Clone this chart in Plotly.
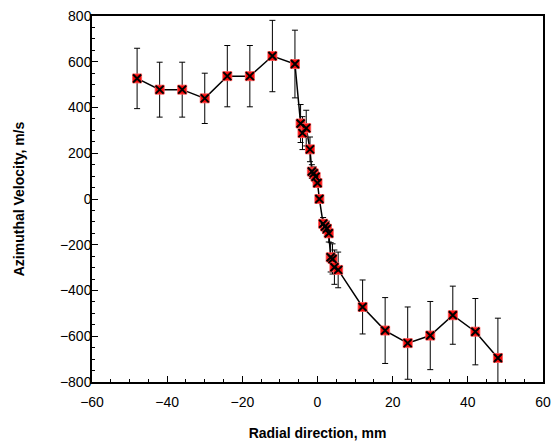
import plotly.graph_objects as go

radial_mm = [-48, -42, -36, -30, -24, -18, -12, -6,
             -4.5, -4, -3, -2, -1.5, -1, -0.5, 0, 0.5,
             1.5, 2, 2.5, 3, 3.5, 4, 4.5, 5.5,
             12, 18, 24, 30, 36, 42, 48]
velocity = [527, 478, 478, 440, 537, 537, 625, 590,
            330, 288, 310, 217, 120, 112, 97, 70, 0,
            -108, -120, -130, -150, -255, -262, -298, -310,
            -472, -575, -630, -597, -508, -580, -695]
error = [132, 120, 120, 110, 134, 134, 156, 148,
         83, 72, 78, 54, 30, 28, 24, 18, 0,
         27, 30, 33, 38, 64, 66, 75, 78,
         118, 144, 158, 149, 127, 145, 174]

fig = go.Figure()
fig.add_trace(go.Scatter(
    x=radial_mm, y=velocity, mode="lines+markers",
    line=dict(color="black", width=1.5),
    marker=dict(symbol="square", size=9, color="rgb(250,10,10)",
                line=dict(color="rgba(255,90,90,0.9)", width=1)),
    error_y=dict(type="data", array=error, visible=True,
                 color="black", thickness=1, width=3),
    showlegend=False))
fig.add_trace(go.Scatter(
    x=radial_mm, y=velocity, mode="markers",
    marker=dict(symbol="x-thin", size=8,
                line=dict(color="black", width=2)),
    showlegend=False, hoverinfo="skip"))

axis_common = dict(showline=True, linecolor="black", linewidth=1.5, mirror=True,
                   ticks="inside", ticklen=6, tickwidth=1, tickcolor="black",
                   showgrid=False, zeroline=False,
                   tickfont=dict(family="Liberation Sans, Arial", size=14, color="black"))
fig.update_xaxes(range=[-60, 60], dtick=20, tick0=-60,
                 minor=dict(dtick=5, ticks="inside", ticklen=3, tickcolor="black"),
                 ticklabelstandoff=6,
                 title=dict(text="<b>Radial direction, mm</b>",
                            font=dict(family="Liberation Sans, Arial", size=14, color="black"),
                            standoff=20),
                 **axis_common)
fig.update_yaxes(range=[-800, 800], dtick=200, tick0=-800,
                 minor=dict(dtick=50, ticks="inside", ticklen=3, tickcolor="black"),
                 ticklabelstandoff=-4,
                 title=dict(text="<b>Azimuthal Velocity, m/s</b>",
                            font=dict(family="Liberation Sans, Arial", size=14, color="black"),
                            standoff=32),
                 **axis_common)
fig.update_layout(width=551, height=441,
                  margin=dict(l=92, r=8, t=16, b=59, autoexpand=False),
                  plot_bgcolor="white", paper_bgcolor="white")
fig.write_html("out.html", config={"displayModeBar": False},
               post_script="document.body.style.margin='0';document.body.style.overflow='hidden';")
